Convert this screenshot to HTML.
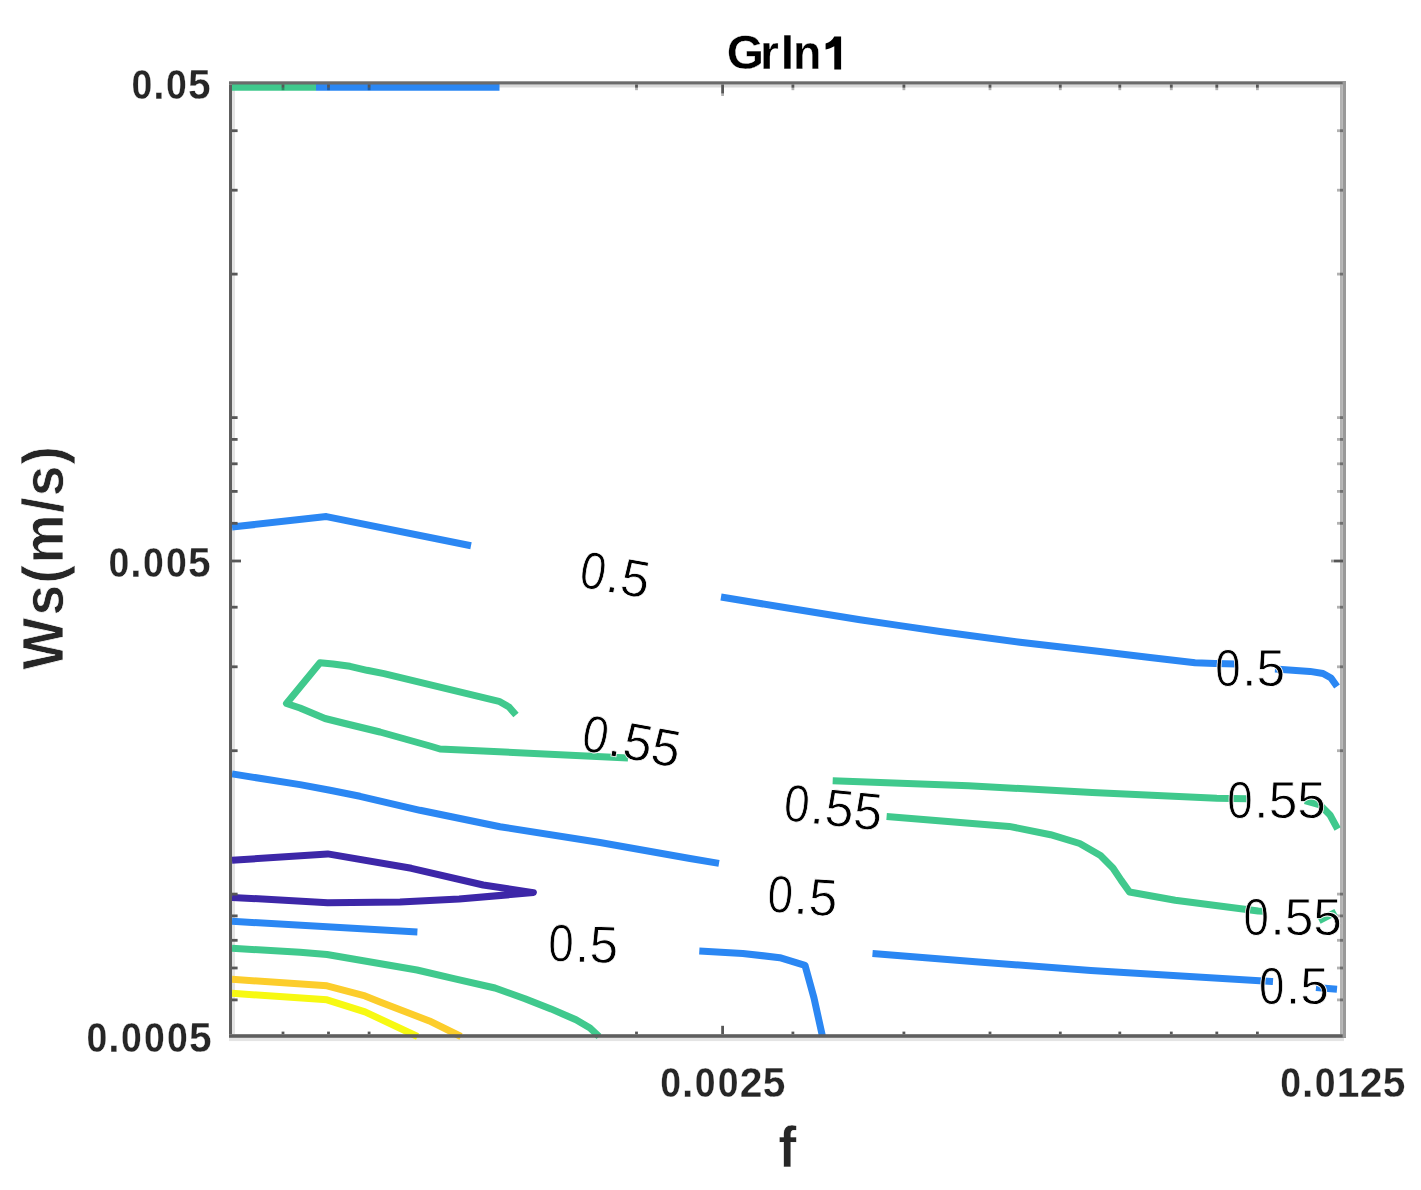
<!DOCTYPE html>
<html><head><meta charset="utf-8"><style>
html,body{margin:0;padding:0;background:#fff;}
svg{display:block;}
#wrap{width:1421px;height:1190px;will-change:transform;}
text{font-family:"Liberation Sans",sans-serif;}
</style></head><body>
<div id="wrap"><svg width="1421" height="1190" viewBox="0 0 1421 1190">
<rect width="1421" height="1190" fill="#fff"/>
<rect x="232.0" y="84.5" width="3.0" height="949.7" fill="#e4e4e4"/>
<rect x="229.0" y="84.5" width="1111.0" height="3.0" fill="#d9d9d9"/>
<rect x="229.0" y="1037.8" width="1115.0" height="3.3" fill="#e4e4e4"/>
<rect x="1340.0" y="84.5" width="2.6" height="949.7" fill="#b3b3b3"/>
<polyline points="232.0,87.2 316.0,87.2" fill="none" stroke="#40c98d" stroke-width="7.0" stroke-linejoin="round" stroke-linecap="butt"/>
<polyline points="316.0,87.2 499.5,87.2" fill="none" stroke="#2b87f3" stroke-width="7.0" stroke-linejoin="round" stroke-linecap="butt"/>
<polyline points="232.0,527.0 326.4,516.6 471.0,545.8" fill="none" stroke="#2b87f3" stroke-width="7.0" stroke-linejoin="round" stroke-linecap="butt"/>
<polyline points="721.0,597.0 780.0,606.8 860.0,619.7 900.0,625.6 940.0,631.5 1020.0,642.2 1100.0,651.4 1150.0,657.4 1195.0,662.8 1215.0,663.6 1237.0,664.0" fill="none" stroke="#2b87f3" stroke-width="7.0" stroke-linejoin="round" stroke-linecap="butt"/>
<polyline points="1275.0,669.0 1310.0,671.4 1323.0,673.5 1331.0,678.0 1337.0,686.5" fill="none" stroke="#2b87f3" stroke-width="7.0" stroke-linejoin="round" stroke-linecap="butt"/>
<polyline points="232.0,773.9 300.0,784.6 330.0,790.2 360.0,796.3 420.0,810.3 500.0,826.7 600.0,842.5 690.0,858.5 719.0,863.4" fill="none" stroke="#2b87f3" stroke-width="7.0" stroke-linejoin="round" stroke-linecap="butt"/>
<polyline points="232.0,921.3 417.4,932.1" fill="none" stroke="#2b87f3" stroke-width="7.0" stroke-linejoin="round" stroke-linecap="butt"/>
<polyline points="699.3,951.0 742.8,953.4 779.8,957.7 805.0,965.3 814.0,998.0 822.5,1036.5" fill="none" stroke="#2b87f3" stroke-width="7.0" stroke-linejoin="round" stroke-linecap="butt"/>
<polyline points="872.5,953.5 975.4,961.7 1090.8,970.4 1273.0,981.6" fill="none" stroke="#2b87f3" stroke-width="7.0" stroke-linejoin="round" stroke-linecap="butt"/>
<polyline points="1316.0,987.5 1337.0,989.3" fill="none" stroke="#2b87f3" stroke-width="7.0" stroke-linejoin="round" stroke-linecap="butt"/>
<polyline points="516.0,715.0 509.0,707.0 499.0,701.3 384.0,673.6 367.0,670.3 350.0,666.3 333.0,664.0 320.0,662.8 286.5,703.5 300.0,708.0 325.0,718.5 345.0,723.5 380.0,732.0 430.0,746.0 440.0,749.0 628.0,758.0" fill="none" stroke="#40c98d" stroke-width="7.0" stroke-linejoin="round" stroke-linecap="butt"/>
<polyline points="832.7,780.8 968.5,785.7 1092.2,792.4 1216.8,798.2 1247.0,798.8" fill="none" stroke="#40c98d" stroke-width="7.0" stroke-linejoin="round" stroke-linecap="butt"/>
<polyline points="1305.0,800.6 1320.0,805.0 1330.0,815.0 1337.6,829.0" fill="none" stroke="#40c98d" stroke-width="7.0" stroke-linejoin="round" stroke-linecap="butt"/>
<polyline points="886.6,816.5 1009.1,826.4 1050.6,834.7 1079.7,843.5 1100.5,855.5 1112.9,868.0 1121.2,880.4 1129.5,892.0 1175.2,900.2 1258.2,911.0 1264.0,911.3" fill="none" stroke="#40c98d" stroke-width="7.0" stroke-linejoin="round" stroke-linecap="butt"/>
<polyline points="1319.0,920.7 1336.0,912.0" fill="none" stroke="#40c98d" stroke-width="7.0" stroke-linejoin="round" stroke-linecap="butt"/>
<polyline points="232.0,948.3 300.0,952.3 327.0,954.5 417.0,970.0 455.0,978.8 495.0,988.0 525.0,998.7 551.0,1008.9 576.0,1019.8 590.0,1028.0 599.0,1036.5" fill="none" stroke="#40c98d" stroke-width="7.0" stroke-linejoin="round" stroke-linecap="butt"/>
<polyline points="232.0,860.3 327.7,853.9 411.4,868.3 483.2,885.0 533.4,892.6 459.2,899.0 400.0,902.0 327.7,902.7 232.0,897.4" fill="none" stroke="#3d27a8" stroke-width="7.0" stroke-linejoin="round" stroke-linecap="butt"/>
<polyline points="232.0,979.3 327.0,985.8 365.0,995.9 380.0,1002.0 429.4,1020.9 461.0,1036.5" fill="none" stroke="#fccd2b" stroke-width="7.0" stroke-linejoin="round" stroke-linecap="butt"/>
<polyline points="232.0,993.3 327.0,999.8 365.0,1011.8 380.0,1018.9 417.5,1036.5" fill="none" stroke="#f7f912" stroke-width="7.0" stroke-linejoin="round" stroke-linecap="butt"/>
<rect x="229.0" y="84.5" width="3.0" height="949.7" fill="#5e5e5e"/>
<rect x="229.0" y="81.3" width="1117.0" height="3.2" fill="#6b6b6b"/>
<rect x="229.0" y="1034.2" width="1117.0" height="3.6" fill="#5e5e5e"/>
<rect x="1342.6" y="81.3" width="3.4" height="956.5" fill="#999999"/>
<rect x="281.6" y="1031.6" width="2.8" height="2.6" fill="#575757"/>
<rect x="281.6" y="84.5" width="2.8" height="3.2" fill="#575757"/>
<rect x="281.6" y="87.7" width="2.8" height="2.5" fill="rgba(0,0,0,0.3)"/>
<rect x="327.1" y="1031.6" width="2.8" height="2.6" fill="#575757"/>
<rect x="327.1" y="84.5" width="2.8" height="3.2" fill="#575757"/>
<rect x="327.1" y="87.7" width="2.8" height="2.5" fill="rgba(0,0,0,0.3)"/>
<rect x="367.7" y="1031.6" width="2.8" height="2.6" fill="#575757"/>
<rect x="367.7" y="84.5" width="2.8" height="3.2" fill="#575757"/>
<rect x="367.7" y="87.7" width="2.8" height="2.5" fill="rgba(0,0,0,0.3)"/>
<rect x="635.1" y="1031.6" width="2.8" height="2.6" fill="#575757"/>
<rect x="635.1" y="84.5" width="2.8" height="3.2" fill="#575757"/>
<rect x="635.1" y="87.7" width="2.8" height="2.5" fill="rgba(0,0,0,0.3)"/>
<rect x="791.5" y="1031.6" width="2.8" height="2.6" fill="#575757"/>
<rect x="791.5" y="84.5" width="2.8" height="3.2" fill="#575757"/>
<rect x="791.5" y="87.7" width="2.8" height="2.5" fill="rgba(0,0,0,0.3)"/>
<rect x="902.5" y="1031.6" width="2.8" height="2.6" fill="#575757"/>
<rect x="902.5" y="84.5" width="2.8" height="3.2" fill="#575757"/>
<rect x="902.5" y="87.7" width="2.8" height="2.5" fill="rgba(0,0,0,0.3)"/>
<rect x="988.6" y="1031.6" width="2.8" height="2.6" fill="#575757"/>
<rect x="988.6" y="84.5" width="2.8" height="3.2" fill="#575757"/>
<rect x="988.6" y="87.7" width="2.8" height="2.5" fill="rgba(0,0,0,0.3)"/>
<rect x="1058.9" y="1031.6" width="2.8" height="2.6" fill="#575757"/>
<rect x="1058.9" y="84.5" width="2.8" height="3.2" fill="#575757"/>
<rect x="1058.9" y="87.7" width="2.8" height="2.5" fill="rgba(0,0,0,0.3)"/>
<rect x="1118.4" y="1031.6" width="2.8" height="2.6" fill="#575757"/>
<rect x="1118.4" y="84.5" width="2.8" height="3.2" fill="#575757"/>
<rect x="1118.4" y="87.7" width="2.8" height="2.5" fill="rgba(0,0,0,0.3)"/>
<rect x="1169.9" y="1031.6" width="2.8" height="2.6" fill="#575757"/>
<rect x="1169.9" y="84.5" width="2.8" height="3.2" fill="#575757"/>
<rect x="1169.9" y="87.7" width="2.8" height="2.5" fill="rgba(0,0,0,0.3)"/>
<rect x="1215.4" y="1031.6" width="2.8" height="2.6" fill="#575757"/>
<rect x="1215.4" y="84.5" width="2.8" height="3.2" fill="#575757"/>
<rect x="1215.4" y="87.7" width="2.8" height="2.5" fill="rgba(0,0,0,0.3)"/>
<rect x="1256.0" y="1031.6" width="2.8" height="2.6" fill="#575757"/>
<rect x="1256.0" y="84.5" width="2.8" height="3.2" fill="#575757"/>
<rect x="1256.0" y="87.7" width="2.8" height="2.5" fill="rgba(0,0,0,0.3)"/>
<rect x="721.2" y="1025.8" width="2.8" height="8.4" fill="#575757"/>
<rect x="721.2" y="84.5" width="2.8" height="9.0" fill="#575757"/>
<rect x="721.2" y="93.5" width="2.8" height="2.5" fill="rgba(0,0,0,0.3)"/>
<rect x="232.0" y="129.3" width="5.6" height="2.8" fill="#575757"/>
<rect x="1340.0" y="129.3" width="3.0" height="2.8" fill="#707070"/>
<rect x="1337.0" y="129.3" width="3.0" height="2.8" fill="rgba(0,0,0,0.3)"/>
<rect x="232.0" y="188.8" width="5.6" height="2.8" fill="#575757"/>
<rect x="1340.0" y="188.8" width="3.0" height="2.8" fill="#707070"/>
<rect x="1337.0" y="188.8" width="3.0" height="2.8" fill="rgba(0,0,0,0.3)"/>
<rect x="232.0" y="272.7" width="5.6" height="2.8" fill="#575757"/>
<rect x="1340.0" y="272.7" width="3.0" height="2.8" fill="#707070"/>
<rect x="1337.0" y="272.7" width="3.0" height="2.8" fill="rgba(0,0,0,0.3)"/>
<rect x="232.0" y="416.2" width="5.6" height="2.8" fill="#575757"/>
<rect x="1340.0" y="416.2" width="3.0" height="2.8" fill="#707070"/>
<rect x="1337.0" y="416.2" width="3.0" height="2.8" fill="rgba(0,0,0,0.3)"/>
<rect x="232.0" y="438.0" width="5.6" height="2.8" fill="#575757"/>
<rect x="1340.0" y="438.0" width="3.0" height="2.8" fill="#707070"/>
<rect x="1337.0" y="438.0" width="3.0" height="2.8" fill="rgba(0,0,0,0.3)"/>
<rect x="232.0" y="462.4" width="5.6" height="2.8" fill="#575757"/>
<rect x="1340.0" y="462.4" width="3.0" height="2.8" fill="#707070"/>
<rect x="1337.0" y="462.4" width="3.0" height="2.8" fill="rgba(0,0,0,0.3)"/>
<rect x="232.0" y="490.0" width="5.6" height="2.8" fill="#575757"/>
<rect x="1340.0" y="490.0" width="3.0" height="2.8" fill="#707070"/>
<rect x="1337.0" y="490.0" width="3.0" height="2.8" fill="rgba(0,0,0,0.3)"/>
<rect x="232.0" y="521.9" width="5.6" height="2.8" fill="#575757"/>
<rect x="1340.0" y="521.9" width="3.0" height="2.8" fill="#707070"/>
<rect x="1337.0" y="521.9" width="3.0" height="2.8" fill="rgba(0,0,0,0.3)"/>
<rect x="232.0" y="605.8" width="5.6" height="2.8" fill="#575757"/>
<rect x="1340.0" y="605.8" width="3.0" height="2.8" fill="#707070"/>
<rect x="1337.0" y="605.8" width="3.0" height="2.8" fill="rgba(0,0,0,0.3)"/>
<rect x="232.0" y="665.4" width="5.6" height="2.8" fill="#575757"/>
<rect x="1340.0" y="665.4" width="3.0" height="2.8" fill="#707070"/>
<rect x="1337.0" y="665.4" width="3.0" height="2.8" fill="rgba(0,0,0,0.3)"/>
<rect x="232.0" y="749.3" width="5.6" height="2.8" fill="#575757"/>
<rect x="1340.0" y="749.3" width="3.0" height="2.8" fill="#707070"/>
<rect x="1337.0" y="749.3" width="3.0" height="2.8" fill="rgba(0,0,0,0.3)"/>
<rect x="232.0" y="892.7" width="5.6" height="2.8" fill="#575757"/>
<rect x="1340.0" y="892.7" width="3.0" height="2.8" fill="#707070"/>
<rect x="1337.0" y="892.7" width="3.0" height="2.8" fill="rgba(0,0,0,0.3)"/>
<rect x="232.0" y="914.5" width="5.6" height="2.8" fill="#575757"/>
<rect x="1340.0" y="914.5" width="3.0" height="2.8" fill="#707070"/>
<rect x="1337.0" y="914.5" width="3.0" height="2.8" fill="rgba(0,0,0,0.3)"/>
<rect x="232.0" y="938.9" width="5.6" height="2.8" fill="#575757"/>
<rect x="1340.0" y="938.9" width="3.0" height="2.8" fill="#707070"/>
<rect x="1337.0" y="938.9" width="3.0" height="2.8" fill="rgba(0,0,0,0.3)"/>
<rect x="232.0" y="966.6" width="5.6" height="2.8" fill="#575757"/>
<rect x="1340.0" y="966.6" width="3.0" height="2.8" fill="#707070"/>
<rect x="1337.0" y="966.6" width="3.0" height="2.8" fill="rgba(0,0,0,0.3)"/>
<rect x="232.0" y="998.5" width="5.6" height="2.8" fill="#575757"/>
<rect x="1340.0" y="998.5" width="3.0" height="2.8" fill="#707070"/>
<rect x="1337.0" y="998.5" width="3.0" height="2.8" fill="rgba(0,0,0,0.3)"/>
<rect x="232.0" y="559.6" width="9.0" height="2.8" fill="#575757"/>
<rect x="1334.0" y="559.6" width="9.0" height="2.8" fill="#575757"/>
<rect x="1331.0" y="559.6" width="3.0" height="2.8" fill="rgba(0,0,0,0.37)"/>
<g transform="translate(615.00,574.80) rotate(10.00)" fill="#000" font-size="52.50" font-weight="normal" stroke="#fff" stroke-width="0.80"><text x="-36.67" y="18.06" transform="translate(-22.07,0) scale(0.870,1) translate(22.07,0)">0</text><text x="-8.05" y="18.06">.</text><text x="6.24" y="18.06" transform="translate(20.79,0) scale(0.980,1) translate(-20.79,0)">5</text></g>
<g transform="translate(1250.00,667.80)" fill="#000" font-size="52.50" font-weight="normal" stroke="#fff" stroke-width="0.80"><text x="-36.67" y="18.06" transform="translate(-22.07,0) scale(0.870,1) translate(22.07,0)">0</text><text x="-8.05" y="18.06">.</text><text x="6.24" y="18.06" transform="translate(20.79,0) scale(0.980,1) translate(-20.79,0)">5</text></g>
<g transform="translate(631.60,741.20) rotate(10.50)" fill="#000" font-size="52.50" font-weight="normal" stroke="#fff" stroke-width="0.80"><text x="-50.97" y="18.06" transform="translate(-36.38,0) scale(0.870,1) translate(36.38,0)">0</text><text x="-22.36" y="18.06">.</text><text x="-8.07" y="18.06" transform="translate(6.48,0) scale(0.980,1) translate(-6.48,0)">5</text><text x="20.55" y="18.06" transform="translate(35.10,0) scale(0.980,1) translate(-35.10,0)">5</text></g>
<g transform="translate(833.20,807.50) rotate(6.00)" fill="#000" font-size="52.50" font-weight="normal" stroke="#fff" stroke-width="0.80"><text x="-50.97" y="18.06" transform="translate(-36.38,0) scale(0.870,1) translate(36.38,0)">0</text><text x="-22.36" y="18.06">.</text><text x="-8.07" y="18.06" transform="translate(6.48,0) scale(0.980,1) translate(-6.48,0)">5</text><text x="20.55" y="18.06" transform="translate(35.10,0) scale(0.980,1) translate(-35.10,0)">5</text></g>
<g transform="translate(1276.40,799.50)" fill="#000" font-size="52.50" font-weight="normal" stroke="#fff" stroke-width="0.80"><text x="-50.97" y="18.06" transform="translate(-36.38,0) scale(0.870,1) translate(36.38,0)">0</text><text x="-22.36" y="18.06">.</text><text x="-8.07" y="18.06" transform="translate(6.48,0) scale(0.980,1) translate(-6.48,0)">5</text><text x="20.55" y="18.06" transform="translate(35.10,0) scale(0.980,1) translate(-35.10,0)">5</text></g>
<g transform="translate(802.40,896.00) rotate(4.00)" fill="#000" font-size="52.50" font-weight="normal" stroke="#fff" stroke-width="0.80"><text x="-36.67" y="18.06" transform="translate(-22.07,0) scale(0.870,1) translate(22.07,0)">0</text><text x="-8.05" y="18.06">.</text><text x="6.24" y="18.06" transform="translate(20.79,0) scale(0.980,1) translate(-20.79,0)">5</text></g>
<g transform="translate(1292.50,916.80)" fill="#000" font-size="52.50" font-weight="normal" stroke="#fff" stroke-width="0.80"><text x="-50.97" y="18.06" transform="translate(-36.38,0) scale(0.870,1) translate(36.38,0)">0</text><text x="-22.36" y="18.06">.</text><text x="-8.07" y="18.06" transform="translate(6.48,0) scale(0.980,1) translate(-6.48,0)">5</text><text x="20.55" y="18.06" transform="translate(35.10,0) scale(0.980,1) translate(-35.10,0)">5</text></g>
<g transform="translate(583.10,944.00) rotate(2.00)" fill="#000" font-size="52.50" font-weight="normal" stroke="#fff" stroke-width="0.80"><text x="-36.67" y="18.06" transform="translate(-22.07,0) scale(0.870,1) translate(22.07,0)">0</text><text x="-8.05" y="18.06">.</text><text x="6.24" y="18.06" transform="translate(20.79,0) scale(0.980,1) translate(-20.79,0)">5</text></g>
<g transform="translate(1293.80,985.80)" fill="#000" font-size="52.50" font-weight="normal" stroke="#fff" stroke-width="0.80"><text x="-36.67" y="18.06" transform="translate(-22.07,0) scale(0.870,1) translate(22.07,0)">0</text><text x="-8.05" y="18.06">.</text><text x="6.24" y="18.06" transform="translate(20.79,0) scale(0.980,1) translate(-20.79,0)">5</text></g>
<g transform="translate(209.50,98.90)" fill="#262626" font-size="42.50" font-weight="bold" stroke="#fff" stroke-width="0.30"><text x="-79.52" y="0.00" transform="translate(-67.73,0) scale(0.880,1) translate(67.73,0)">0</text><text x="-56.52" y="0.00" transform="translate(-50.63,0) scale(0.960,1) translate(50.63,0)">.</text><text x="-45.03" y="0.00" transform="translate(-33.24,0) scale(0.880,1) translate(33.24,0)">0</text><text x="-22.03" y="0.00" transform="translate(-10.15,0) scale(0.960,1) translate(10.15,0)">5</text></g>
<g transform="translate(209.50,576.60)" fill="#262626" font-size="42.50" font-weight="bold" stroke="#fff" stroke-width="0.30"><text x="-102.51" y="0.00" transform="translate(-90.73,0) scale(0.880,1) translate(90.73,0)">0</text><text x="-79.52" y="0.00" transform="translate(-73.63,0) scale(0.960,1) translate(73.63,0)">.</text><text x="-68.03" y="0.00" transform="translate(-56.24,0) scale(0.880,1) translate(56.24,0)">0</text><text x="-45.03" y="0.00" transform="translate(-33.24,0) scale(0.880,1) translate(33.24,0)">0</text><text x="-22.03" y="0.00" transform="translate(-10.15,0) scale(0.960,1) translate(10.15,0)">5</text></g>
<g transform="translate(210.50,1051.90)" fill="#262626" font-size="42.50" font-weight="bold" stroke="#fff" stroke-width="0.30"><text x="-125.51" y="0.00" transform="translate(-113.73,0) scale(0.880,1) translate(113.73,0)">0</text><text x="-102.51" y="0.00" transform="translate(-96.63,0) scale(0.960,1) translate(96.63,0)">.</text><text x="-91.03" y="0.00" transform="translate(-79.24,0) scale(0.880,1) translate(79.24,0)">0</text><text x="-68.03" y="0.00" transform="translate(-56.24,0) scale(0.880,1) translate(56.24,0)">0</text><text x="-45.03" y="0.00" transform="translate(-33.24,0) scale(0.880,1) translate(33.24,0)">0</text><text x="-22.03" y="0.00" transform="translate(-10.15,0) scale(0.960,1) translate(10.15,0)">5</text></g>
<g transform="translate(723.00,1097.10)" fill="#262626" font-size="42.50" font-weight="bold" stroke="#fff" stroke-width="0.30"><text x="-64.20" y="0.00" transform="translate(-52.42,0) scale(0.880,1) translate(52.42,0)">0</text><text x="-41.20" y="0.00" transform="translate(-35.32,0) scale(0.960,1) translate(35.32,0)">.</text><text x="-29.72" y="0.00" transform="translate(-17.93,0) scale(0.880,1) translate(17.93,0)">0</text><text x="-6.72" y="0.00" transform="translate(5.07,0) scale(0.880,1) translate(-5.07,0)">0</text><text x="16.28" y="0.00" transform="translate(27.98,0) scale(0.960,1) translate(-27.98,0)">2</text><text x="39.28" y="0.00" transform="translate(51.16,0) scale(0.960,1) translate(-51.16,0)">5</text></g>
<g transform="translate(1343.00,1097.10)" fill="#262626" font-size="42.50" font-weight="bold" stroke="#fff" stroke-width="0.30"><text x="-64.20" y="0.00" transform="translate(-52.42,0) scale(0.880,1) translate(52.42,0)">0</text><text x="-41.20" y="0.00" transform="translate(-35.32,0) scale(0.960,1) translate(35.32,0)">.</text><text x="-29.72" y="0.00" transform="translate(-17.93,0) scale(0.880,1) translate(17.93,0)">0</text><text x="-6.72" y="0.00" transform="translate(5.85,0) scale(0.960,1) translate(-5.85,0)">1</text><text x="16.28" y="0.00" transform="translate(27.98,0) scale(0.960,1) translate(-27.98,0)">2</text><text x="39.28" y="0.00" transform="translate(51.16,0) scale(0.960,1) translate(-51.16,0)">5</text></g>
<text x="0" y="0" font-size="48.70" font-weight="bold" fill="#000" stroke="#fff" stroke-width="0.31" transform="translate(726.69,69.40) scale(0.9829,1.0000)">G</text>
<text x="0" y="0" font-size="48.70" font-weight="bold" fill="#000" stroke="#fff" stroke-width="0.30" transform="translate(759.96,69.40) scale(0.9930,1.0000)">r</text>
<text x="0" y="0" font-size="48.70" font-weight="bold" fill="#000" stroke="#fff" stroke-width="0.29" transform="translate(780.54,69.40) scale(1.0326,0.9500)">l</text>
<text x="0" y="0" font-size="48.70" font-weight="bold" fill="#000" stroke="#fff" stroke-width="0.31" transform="translate(793.09,69.40) scale(0.9525,1.0000)">n</text>
<path d="M834.3,36.6 L841.1,36.6 L841.1,69.4 L834.3,69.4 L834.3,46.2 C831.8,47.8 828.6,48.9 825.6,49.4 L825.6,43.6 C829.4,42.6 832.4,40.2 834.3,36.6 Z" fill="#000"/>
<g transform="translate(788.00,1166.70)" fill="#262626" font-size="58.00" font-weight="bold" stroke="#fff" stroke-width="0.70"><text x="-10.21" y="0.00" transform="translate(0.00,0) scale(0.950,1) translate(-0.00,0)">f</text></g>
<g transform="translate(62.90,559.30) rotate(-90.00)" fill="#262626" font-size="58.00" font-weight="bold" stroke="#fff" stroke-width="0.70"><text x="-111.85" y="0.00" transform="translate(-84.48,0) scale(0.950,1) translate(84.48,0)">W</text><text x="-57.10" y="0.00" transform="translate(-41.15,0) scale(0.950,1) translate(41.15,0)">s</text><text x="-24.85" y="0.00" transform="translate(-13.77,0) scale(0.950,1) translate(13.77,0)">(</text><text x="-5.53" y="0.00" transform="translate(20.37,0) scale(0.950,1) translate(-20.37,0)">m</text><text x="46.04" y="0.00" transform="translate(54.09,0) scale(0.950,1) translate(-54.09,0)">/</text><text x="62.15" y="0.00" transform="translate(78.11,0) scale(0.950,1) translate(-78.11,0)">s</text><text x="94.41" y="0.00" transform="translate(102.65,0) scale(0.950,1) translate(-102.65,0)">)</text></g>
</svg></div>
</body></html>
